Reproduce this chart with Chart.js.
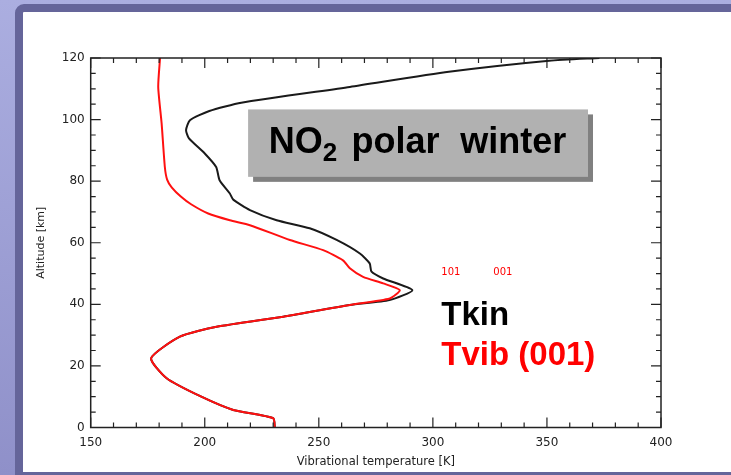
<!DOCTYPE html>
<html>
<head>
<meta charset="utf-8">
<script src="https://cdn.jsdelivr.net/npm/chart.js@4/dist/chart.umd.min.js"></script>
<style>
  html, body { margin: 0; padding: 0; }
  body {
    width: 731px; height: 475px; overflow: hidden; position: relative;
    background: linear-gradient(#abaee0, #8f90c9);
  }
  #frame {
    position: absolute; left: 15px; top: 4px; width: 740px; height: 476px;
    box-sizing: border-box; border: 8px solid #65659a; border-radius: 9px 0 0 0;
    background: #fff;
  }
  #chart { position: absolute; left: 0; top: 0; }
</style>
</head>
<body>
<div id="frame"></div>
<canvas id="chart" width="731" height="475"></canvas>
<script>
// Tkin profile (black), altitude in km, temperature in K
const tkinAlt  = [120, 119.1, 115.5, 110.6, 105.5, 102.8, 99.8, 96.6, 94, 89, 84.6, 80.3, 76, 74, 70.6, 67.3, 64.7, 60.9, 56.5, 53.3, 50.6, 48.4, 44.6, 41.4, 39.8, 36, 32.7, 29.5, 22.5, 16, 10, 5.7, 3, 0];
const tkinTemp = [373, 351, 307, 263.6, 216, 202, 193.5, 191.8, 193, 200, 205, 206.5, 211, 212.5, 219.8, 231.5, 246, 257.8, 268, 272.3, 273.1, 278.2, 291, 281, 263.6, 234.4, 205.2, 189.1, 176.5, 183.3, 198.5, 212.5, 230, 230.7];

// Tvib (001) profile (red)
const tvibAlt  = [120, 110.6, 98.7, 84.6, 80.5, 78, 75, 72.5, 69.5, 67.3, 65.7, 60.9, 57.6, 54.3, 51.7, 48.9, 46.8, 44.6, 41.9, 39.8, 36, 32.7, 29.5, 22.5, 16, 10, 5.7, 3, 0];
const tvibTemp = [180.4, 179.6, 181.1, 182.5, 183.5, 185.5, 189.5, 194, 201.5, 211, 219.8, 237.3, 251.9, 260.6, 263.6, 269.4, 278.2, 285.5, 281.1, 263.6, 234.4, 205.2, 189.1, 176.5, 183.3, 198.5, 212.5, 230, 230.7];

const xTicks = [150, 200, 250, 300, 350, 400];
const yTicks = [0, 20, 40, 60, 80, 100, 120];

function toPoints(xs, ys) {
  return xs.map(function(x, i) { return {x: x, y: ys[i]}; });
}

const tickFont = {family: 'DejaVu Sans', size: 12};
const ink = '#222';

// IDL-style frame with inward major/minor ticks
const framePlugin = {
  id: 'frame',
  afterDatasetsDraw(chart) {
    const ctx = chart.ctx, a = chart.chartArea;
    const xs = chart.scales.x, ys = chart.scales.y;
    ctx.save();
    ctx.strokeStyle = ink;
    ctx.lineWidth = 1.5;
    ctx.strokeRect(a.left, a.top, a.right - a.left, a.bottom - a.top);
    ctx.lineWidth = 1.2;
    ctx.beginPath();
    for (let v = xs.min; v <= xs.max; v += 10) {
      const p = xs.getPixelForValue(v);
      const len = (v % 50 === 0) ? 10 : 5;
      ctx.moveTo(p, a.bottom); ctx.lineTo(p, a.bottom - len);
      ctx.moveTo(p, a.top); ctx.lineTo(p, a.top + len);
    }
    for (let v = ys.min; v <= ys.max; v += 5) {
      const p = ys.getPixelForValue(v);
      const len = (v % 20 === 0) ? 10 : 5;
      ctx.moveTo(a.left, p); ctx.lineTo(a.left + len, p);
      ctx.moveTo(a.right, p); ctx.lineTo(a.right - len, p);
    }
    ctx.stroke();
    ctx.restore();
  }
};

// slide annotations
const labelPlugin = {
  id: 'labels',
  afterDraw(chart) {
    const ctx = chart.ctx;
    const xs = chart.scales.x, ys = chart.scales.y;
    const px = v => xs.getPixelForValue(v);
    const py = v => ys.getPixelForValue(v);
    ctx.save();

    // grey title box with shadow
    const bl = px(219), br = px(368), bt = py(103.3), bb = py(81.4);
    ctx.fillStyle = '#808080';
    ctx.fillRect(bl + 5, bt + 5, br - bl, bb - bt);
    ctx.fillStyle = '#b1b1b1';
    ctx.fillRect(bl, bt, br - bl, bb - bt);

    ctx.fillStyle = '#000';
    ctx.textBaseline = 'alphabetic';
    ctx.textAlign = 'left';
    let x = px(228);
    const base = py(89);
    ctx.font = 'bold 36px "Liberation Sans", Arial, sans-serif';
    ctx.fillText('NO', x, base);
    x += ctx.measureText('NO').width;
    ctx.font = 'bold 26px "Liberation Sans", Arial, sans-serif';
    ctx.fillText('2', x, base + 8);
    ctx.font = 'bold 36px "Liberation Sans", Arial, sans-serif';
    ctx.fillText('polar', px(264.3), base);
    ctx.fillText('winter', px(312), base);

    ctx.font = 'bold 33px "Liberation Sans", Arial, sans-serif';
    ctx.fillStyle = '#000';
    ctx.fillText('Tkin', px(303.7), py(33.3));
    ctx.fillStyle = '#ff0000';
    ctx.fillText('Tvib (001)', px(303.7), py(20.3));

    ctx.font = '10px "DejaVu Sans", sans-serif';
    ctx.textBaseline = 'middle';
    ctx.fillText('101', px(303.7), py(50.5));
    ctx.fillText('001', px(326.5), py(50.5));
    ctx.restore();
  }
};

new Chart(document.getElementById('chart'), {
  type: 'scatter',
  data: {
    datasets: [
      {
        label: 'Tvib (001)',
        data: toPoints(tvibTemp, tvibAlt),
        showLine: true,
        borderColor: '#ff1010',
        borderWidth: 2,
        pointRadius: 0,
        tension: 0.2
      },
      {
        label: 'Tkin',
        data: toPoints(tkinTemp, tkinAlt),
        showLine: true,
        borderColor: '#1a1a1a',
        borderWidth: 2,
        pointRadius: 0,
        tension: 0.2
      }
    ]
  },
  options: {
    responsive: false,
    devicePixelRatio: 1,
    animation: false,
    layout: {padding: {left: 30, top: 58, right: 70, bottom: 0}},
    plugins: {
      legend: {display: false},
      tooltip: {enabled: false}
    },
    scales: {
      x: {
        type: 'linear',
        min: 150, max: 400,
        afterBuildTicks: function(scale) { scale.ticks = xTicks.map(v => ({value: v})); },
        afterFit: function(scale) { scale.height = 47.5; },
        grid: {display: false, drawTicks: false},
        border: {display: false},
        ticks: {font: tickFont, color: ink, padding: 8, maxRotation: 0},
        title: {display: true, text: 'Vibrational temperature [K]', font: {family: 'DejaVu Sans', size: 11.5}, color: ink, padding: {top: 0, bottom: 6}}
      },
      y: {
        type: 'linear',
        min: 0, max: 120,
        afterBuildTicks: function(scale) { scale.ticks = yTicks.map(v => ({value: v})); },
        afterFit: function(scale) { scale.width = 60.7; },
        grid: {display: false, drawTicks: false},
        border: {display: false},
        ticks: {font: tickFont, color: ink, padding: 6},
        title: {display: true, text: 'Altitude [km]', font: {family: 'DejaVu Sans', size: 11}, color: ink, padding: {top: 5, bottom: 0}}
      }
    }
  },
  plugins: [framePlugin, labelPlugin]
});
</script>
</body>
</html>
